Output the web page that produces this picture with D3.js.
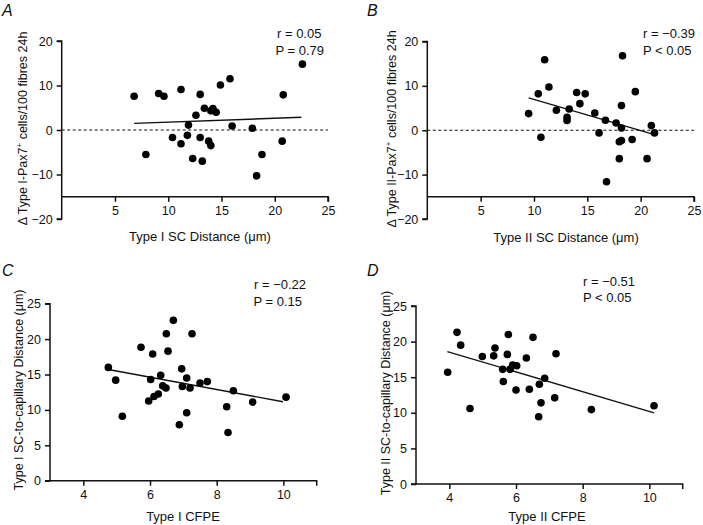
<!DOCTYPE html>
<html><head><meta charset="utf-8">
<script src="https://cdn.jsdelivr.net/npm/d3@7"></script>
<style>body{margin:0;background:#fff}svg{display:block}text{font-family:"Liberation Sans",Arial,sans-serif;fill:#111}</style>
</head><body>
<svg id="c" width="703" height="525"></svg>
<script>
// ---- data ----
const aX = [6.8, 9.1, 9.6, 11.2, 13.0, 14.9, 15.8, 13.4, 12.6, 14.2, 14.0, 14.5, 20.8, 22.6, 11.9, 16.0, 17.9, 7.9, 10.4, 11.2, 11.8, 13.0, 13.8, 14.0, 12.3, 13.2, 18.8, 18.3, 20.7];
const aY = [7.6, 8.2, 7.6, 9.1, 8.0, 10.1, 11.5, 4.9, 3.3, 4.8, 4.3, 4.0, 7.9, 14.8, 1.1, 0.9, 0.4, -5.5, -1.7, -3.1, -1.2, -1.7, -2.5, -3.5, -6.4, -7.0, -5.5, -10.3, -2.5];
const bX = [11.0, 18.3, 11.4, 10.4, 14.0, 14.8, 19.5, 14.3, 18.2, 9.5, 12.1, 13.3, 13.1, 13.1, 15.7, 16.7, 17.7, 18.2, 21.0, 10.65, 16.1, 18.0, 18.2, 19.2, 21.3, 18.0, 20.6, 16.8];
const bY = [15.9, 16.8, 9.75, 8.2, 8.5, 8.2, 8.7, 6.0, 5.55, 3.75, 4.5, 4.8, 2.9, 2.2, 3.9, 2.25, 1.65, 0.5, 1.05, -1.6, -0.6, -2.6, -2.3, -2.1, -0.6, -6.4, -6.4, -11.6];
const cX = [4.75, 4.97, 5.73, 6.08, 6.70, 6.49, 7.26, 6.54, 6.02, 6.32, 6.95, 7.10, 7.50, 7.72, 6.38, 6.48, 6.97, 7.20, 8.50, 5.96, 6.12, 6.25, 5.17, 7.10, 6.88, 8.30, 8.34, 9.08, 10.08];
const cY = [16.0, 14.2, 18.85, 17.9, 22.65, 20.75, 20.75, 18.3, 14.3, 14.9, 15.8, 14.5, 13.8, 14.0, 13.4, 13.1, 13.3, 13.1, 12.7, 11.25, 11.9, 12.25, 9.1, 9.6, 7.9, 10.45, 6.8, 11.1, 11.8];
const dX = [4.23, 4.34, 3.95, 4.99, 5.37, 5.33, 5.77, 5.74, 6.51, 6.31, 7.20, 5.60, 5.82, 5.90, 6.02, 5.62, 6.86, 6.70, 6.0, 6.4, 4.62, 6.75, 7.16, 6.68, 8.26, 10.14];
const dY = [21.3, 19.5, 15.7, 17.9, 19.1, 18.0, 21.0, 18.2, 20.6, 17.7, 18.3, 16.1, 16.1, 16.7, 16.6, 14.4, 14.85, 14.0, 13.2, 13.3, 10.6, 11.4, 12.1, 9.45, 10.45, 11.0];
// regression line end points [x0, y0, x1, y1]
const aFit = [6.8, 1.5, 22.5, 2.85];
const bFit = [9.5, 7.3, 21.3, -1.0];
const cFit = [4.75, 15.7, 9.99, 11.15];
const dFit = [3.94, 18.6, 10.14, 10.0];
// ticks
const abXTicks = [5, 10, 15, 20, 25];
const abYTicks = [-20, -10, 0, 10, 20];
const cdXTicks = [4, 6, 8, 10];
const cdYTicks = [0, 5, 10, 15, 20, 25];
const panelLetters = ["A", "B", "C", "D"];
const xLabels = ["Type I SC Distance (\u03bcm)", "Type II SC Distance (\u03bcm)", "Type I CFPE", "Type II CFPE"];
const yLabels = [["\u0394 Type I-Pax7", "+", " cells/100 fibres 24h"], ["\u0394 Type II-Pax7", "+", " cells/100 fibres 24h"], ["Type I SC-to-capillary Distance (\u03bcm)"], ["Type II SC-to-capillary Distance (\u03bcm)"]];
const statR = ["r = 0.05", "r = \u22120.39", "r = \u22120.22", "r = \u22120.51"];
const statP = ["P = 0.79", "P < 0.05", "P = 0.15", "P < 0.05"];

// ---- layout ----
const svg = d3.select("#c");
const panels = [
  {x: aX, y: aY, fit: aFit, xd: [0, 25], yd: [-20, 20], xr: [61.7, 328], yr: [219, 41], xAxisAt: -15, xt: abXTicks, yt: abYTicks, dash: true,
   letter: [2, 16], yl: [27, 128.5], xl: [200, 241], st: [277, 38, 275.5, 55]},
  {x: bX, y: bY, fit: bFit, xd: [0, 25], yd: [-20, 20], xr: [427.3, 694], yr: [219, 41.5], xAxisAt: -15, xt: abXTicks, yt: abYTicks, dash: true,
   letter: [367, 16], yl: [396, 129], xl: [566, 242], st: [643, 38, 643, 55]},
  {x: cX, y: cY, fit: cFit, xd: [3, 11], yd: [0, 25], xr: [50, 316.7], yr: [480.7, 303.7], xAxisAt: 0, xt: cdXTicks, yt: cdYTicks, dash: false,
   letter: [2, 276], yl: [22.5, 390], xl: [183, 521], st: [254, 289, 253.5, 306]},
  {x: dX, y: dY, fit: dFit, xd: [3, 11], yd: [0, 25], xr: [416, 682.7], yr: [484, 306], xAxisAt: 0, xt: cdXTicks, yt: cdYTicks, dash: false,
   letter: [367, 276], yl: [389.5, 393], xl: [547, 521], st: [583, 286, 583, 302]}
];

const FS = 12.5;
panels.forEach((p, i) => {
  const x = d3.scaleLinear().domain(p.xd).range(p.xr);
  const y = d3.scaleLinear().domain(p.yd).range(p.yr);
  const g = svg.append("g");

  // y axis
  const ya = g.append("g").attr("transform", `translate(${p.xr[0]},0)`)
    .call(d3.axisLeft(y).tickValues(p.yt).tickSize(5).tickPadding(4).tickFormat(d => d < 0 ? "\u2212" + Math.abs(d) : d));
  // x axis
  const xa = g.append("g").attr("transform", `translate(0,${y(p.xAxisAt)})`)
    .call(d3.axisBottom(x).tickValues(p.xt).tickSize(5).tickPadding(4));
  [ya, xa].forEach(a => {
    a.select(".domain").attr("stroke", "#111").attr("stroke-width", 1.5);
    a.selectAll(".tick line").attr("stroke", "#111").attr("stroke-width", 1.5);
    a.selectAll("text").attr("font-size", FS).attr("font-family", "Liberation Sans, Arial, sans-serif").attr("fill", "#111");
  });
  ya.select(".domain").attr("d", `M-5,${p.yr[0]}H0V${p.yr[1]}H-5`);
  xa.select(".domain").attr("d", `M${p.xr[0]},0H${p.xr[1]}V5`);

  // dashed zero line
  if (p.dash) {
    g.append("line").attr("x1", x(p.xd[0])).attr("x2", x(p.xd[1])).attr("y1", y(0)).attr("y2", y(0))
      .attr("stroke", "#111").attr("stroke-width", 1.2).attr("stroke-dasharray", "3,2.5");
  }
  // regression
  g.append("line").attr("x1", x(p.fit[0])).attr("y1", y(p.fit[1])).attr("x2", x(p.fit[2])).attr("y2", y(p.fit[3]))
    .attr("stroke", "#111").attr("stroke-width", 1.4);
  // points
  g.selectAll("circle").data(p.x.map((v, k) => [v, p.y[k]])).join("circle")
    .attr("cx", d => x(d[0])).attr("cy", d => y(d[1])).attr("r", 3.8).attr("fill", "#000");

  // letter
  g.append("text").attr("x", p.letter[0]).attr("y", p.letter[1]).attr("font-size", 16).attr("font-style", "italic").text(panelLetters[i]);
  // x label
  g.append("text").attr("x", p.xl[0]).attr("y", p.xl[1]).attr("text-anchor", "middle").attr("font-size", 13).text(xLabels[i]);
  // y label
  const yt = g.append("text").attr("transform", `translate(${p.yl[0]},${p.yl[1]}) rotate(-90)`).attr("text-anchor", "middle").attr("font-size", 12.5);
  const parts = yLabels[i];
  if (parts.length === 3) {
    yt.append("tspan").text(parts[0]);
    yt.append("tspan").attr("font-size", 8).attr("dy", -5).text(parts[1]);
    yt.append("tspan").attr("dy", 5).text(parts[2]);
  } else {
    yt.text(parts[0]);
  }
  // stats
  g.append("text").attr("x", p.st[0]).attr("y", p.st[1]).attr("font-size", 13).text(statR[i]);
  g.append("text").attr("x", p.st[2]).attr("y", p.st[3]).attr("font-size", 13).text(statP[i]);
});
</script>
</body></html>
